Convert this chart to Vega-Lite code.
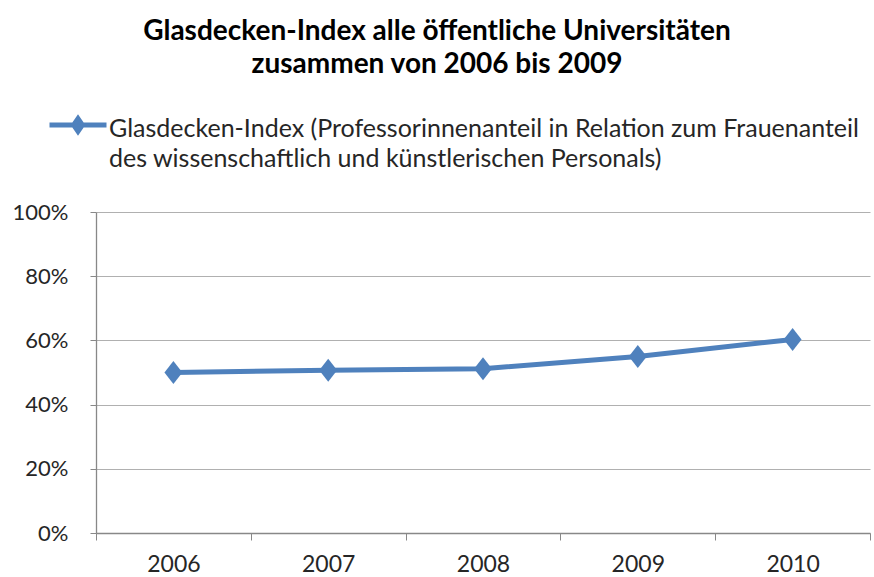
{
  "$schema": "https://vega.github.io/schema/vega-lite/v6.json",
  "width": 774,
  "height": 321,
  "autosize": "none",
  "padding": {"left": 96, "top": 212, "right": 4, "bottom": 44},
  "background": "white",
  "config": {
    "view": {"stroke": null},
    "font": "Lato",
    "style": {"guide-label": {"lineHeight": 30}}
  },
  "title": {
    "text": ["Glasdecken-Index alle öffentliche Universitäten", "zusammen von 2006 bis 2009"],
    "font": "Lato",
    "fontSize": 28,
    "fontWeight": "bold",
    "lineHeight": 33,
    "color": "#000000",
    "anchor": "middle",
    "frame": "group",
    "dx": -46,
    "offset": 19
  },
  "data": {
    "values": [
      {"year": "2006", "index": 0.500, "series": "Glasdecken-Index (Professorinnenanteil in Relation zum Frauenanteil|des wissenschaftlich und künstlerischen Personals)"},
      {"year": "2007", "index": 0.507, "series": "Glasdecken-Index (Professorinnenanteil in Relation zum Frauenanteil|des wissenschaftlich und künstlerischen Personals)"},
      {"year": "2008", "index": 0.512, "series": "Glasdecken-Index (Professorinnenanteil in Relation zum Frauenanteil|des wissenschaftlich und künstlerischen Personals)"},
      {"year": "2009", "index": 0.550, "series": "Glasdecken-Index (Professorinnenanteil in Relation zum Frauenanteil|des wissenschaftlich und künstlerischen Personals)"},
      {"year": "2010", "index": 0.603, "series": "Glasdecken-Index (Professorinnenanteil in Relation zum Frauenanteil|des wissenschaftlich und künstlerischen Personals)"}
    ]
  },
  "encoding": {
    "x": {
      "field": "year",
      "type": "ordinal",
      "bandPosition": 0.5,
      "scale": {"type": "band", "paddingInner": 0, "paddingOuter": 0},
      "axis": {
        "title": null,
        "labelAngle": 0,
        "labelFont": "Lato",
        "labelFontSize": 23,
        "labelColor": "#262626",
        "labelPadding": 13,
        "tickBand": "extent",
        "tickSize": 7,
        "tickColor": "#888888",
        "domainColor": "#888888",
        "domainWidth": 1.3,
        "grid": false
      }
    },
    "y": {
      "field": "index",
      "type": "quantitative",
      "scale": {"domain": [0, 1], "nice": false},
      "axis": {
        "title": null,
        "format": ".0%",
        "values": [0, 0.2, 0.4, 0.6, 0.8, 1],
        "labelFont": "Lato",
        "labelFontSize": 22,
        "labelColor": "#262626",
        "labelPadding": 22,
        "tickSize": 6,
        "tickColor": "#888888",
        "domainColor": "#888888",
        "domainWidth": 1.3,
        "grid": true,
        "gridColor": "#b0b0b0",
        "gridWidth": 1.2
      }
    }
  },
  "layer": [
    {
      "mark": {"type": "line", "strokeWidth": 5, "color": "#4F81BD"},
      "encoding": {
        "color": {
          "field": "series",
          "type": "nominal",
          "scale": {"range": ["#4F81BD"]},
          "legend": {
            "title": null,
            "orient": "none",
            "legendX": -49,
            "legendY": -114,
            "padding": 0,
            "labelExpr": "split(datum.label, '|')",
            "labelFont": "Lato",
            "labelFontSize": 25,
            "labelColor": "#262626",
            "labelLimit": 1000,
            "labelOffset": 0,
            "symbolType": "M-1,-0.14L-0.15,-0.14L0,-0.36L0.15,-0.14L1,-0.14L0.15,-0.14L0,0.08L-0.15,-0.14Z",
            "symbolSize": 3249,
            "symbolStrokeWidth": 5,
            "symbolStrokeColor": "#4F81BD",
            "symbolFillColor": "#4F81BD"
          }
        }
      }
    },
    {
      "mark": {
        "type": "point",
        "shape": "M0,-1L0.78,0L0,1L-0.78,0Z",
        "size": 529,
        "filled": true,
        "opacity": 1,
        "color": "#4F81BD"
      }
    }
  ]
}
